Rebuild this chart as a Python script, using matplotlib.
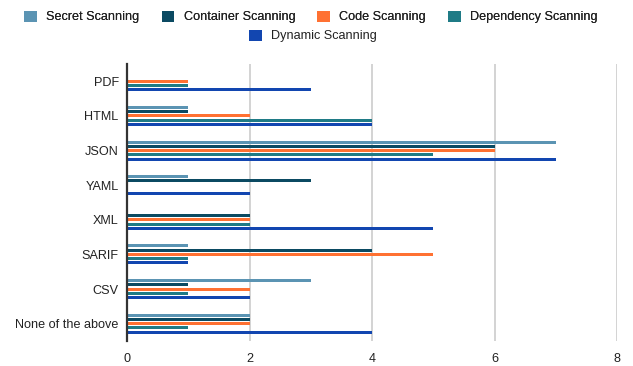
import matplotlib
matplotlib.use("Agg")
import matplotlib.pyplot as plt
import numpy as np
from matplotlib.patches import Patch

plt.rcParams['font.family'] = ['Liberation Sans', 'DejaVu Sans']

categories = ["PDF", "HTML", "JSON", "YAML", "XML", "SARIF", "CSV", "None of the above"]
series_names = ["Secret Scanning", "Container Scanning", "Code Scanning",
                "Dependency Scanning", "Dynamic Scanning"]
secret = [0, 1, 7, 1, 0, 1, 3, 2]
container = [0, 1, 6, 3, 2, 4, 1, 2]
code = [1, 2, 6, 0, 2, 5, 2, 2]
dependency = [1, 4, 5, 0, 2, 1, 1, 1]
dynamic = [3, 4, 7, 2, 5, 1, 2, 4]
x_ticks = [0, 2, 4, 6, 8]

colors = ["#5b94b3", "#0b4a62", "#ff7132", "#1f7b86", "#1246b0"]
series = [secret, container, code, dependency, dynamic]

fig = plt.figure(figsize=(6.33, 3.66), dpi=100)
ax = fig.add_axes([127 / 633, 1 - 341 / 366, 490 / 633, 277 / 366])

n = len(series)
slot = 0.123
bar_h = 0.085
y = np.arange(len(categories))
for i, (vals, col) in enumerate(zip(series, colors)):
    offs = (i - (n - 1) / 2) * slot
    ax.barh(y + offs, vals, height=bar_h, color=col, zorder=3)

ax.set_ylim(len(categories) - 0.5, -0.5)
ax.set_xlim(0, 8)
ax.set_xticks(x_ticks)
ax.set_xticklabels([str(t) for t in x_ticks], fontsize=9.1, color="#222222")
ax.set_yticks(y)
ax.set_yticklabels(categories, fontsize=9.1, color="#222222")
ax.tick_params(axis='both', length=0)
ax.tick_params(axis='x', pad=9)
ax.tick_params(axis='y', pad=6)
ax.grid(axis='x', color="#cccccc", linewidth=1.2, zorder=0)
for s in ["top", "right", "bottom"]:
    ax.spines[s].set_visible(False)
ax.spines["left"].set_color("#333333")
ax.spines["left"].set_linewidth(1.6)
ax.spines["left"].set_zorder(4)

handles = [Patch(facecolor=c, edgecolor='none') for c in colors]
leg_kw = dict(frameon=False, fontsize=9.1, handlelength=1.0, handleheight=1.0,
              handletextpad=0.75, labelcolor="#222222")
leg1 = fig.legend(handles[:4], series_names[:4], loc='center',
                  bbox_to_anchor=(311 / 633, 1 - 17 / 366),
                  ncol=4, columnspacing=1.75, **leg_kw)
fig.add_artist(leg1)
fig.legend(handles[4:], series_names[4:], loc='center',
           bbox_to_anchor=(313 / 633, 1 - 36 / 366), ncol=1, **leg_kw)

fig.savefig("out.png", dpi=100)
